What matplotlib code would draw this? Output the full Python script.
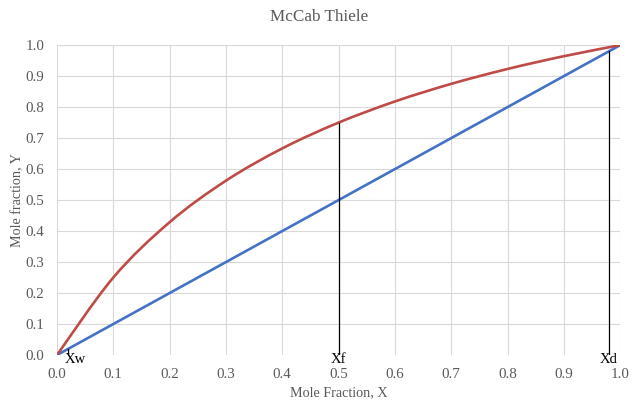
import matplotlib
matplotlib.use("Agg")
import matplotlib.pyplot as plt
from matplotlib.path import Path
from matplotlib.patches import PathPatch
import numpy as np

# Data
x_eq = [0.0, 0.1, 0.2, 0.3, 0.4, 0.5, 0.6, 0.7, 0.8, 0.9, 1.0]
y_eq = [0.0, 0.25, 0.4286, 0.5625, 0.6667, 0.75, 0.8182, 0.875, 0.9231, 0.9643, 1.0]
x_diag = [0.0, 1.0]
y_diag = [0.0, 1.0]
mark_names = ["Xw", "Xf", "Xd"]
mark_x = [0.02, 0.5, 0.98]
mark_top = [0.02, 0.75, 0.98]
ticks = [0.0, 0.1, 0.2, 0.3, 0.4, 0.5, 0.6, 0.7, 0.8, 0.9, 1.0]

RED = "#BE4B48"
BLUE = "#4472C4"
GREY = "#595959"

plt.rcParams['font.family'] = ['Liberation Serif', 'DejaVu Serif']

fig = plt.figure(figsize=(6.4, 4.03), dpi=100)
ax = fig.add_axes([0.089, 0.119, 0.880, 0.769])


def smooth_path(xs, ys):
    pts = list(zip(xs, ys))
    n = len(pts)
    verts = [pts[0]]
    codes = [Path.MOVETO]
    for i in range(n - 1):
        p0 = pts[i - 1] if i > 0 else pts[i]
        p1 = pts[i]
        p2 = pts[i + 1]
        p3 = pts[i + 2] if i + 2 < n else pts[i + 1]
        c1 = (p1[0] + (p2[0] - p0[0]) / 6, p1[1] + (p2[1] - p0[1]) / 6)
        c2 = (p2[0] - (p3[0] - p1[0]) / 6, p2[1] - (p3[1] - p1[1]) / 6)
        verts += [c1, c2, p2]
        codes += [Path.CURVE4] * 3
    return Path(verts, codes)


ax.plot(x_diag, y_diag, color=BLUE, lw=1.9, solid_capstyle='round', zorder=3)
ax.add_patch(PathPatch(smooth_path(x_eq, y_eq), facecolor='none', edgecolor=RED,
                       lw=1.9, capstyle='round', zorder=4))

for name, xv, top in zip(mark_names, mark_x, mark_top):
    ax.plot([xv, xv], [0, top], color='black', lw=0.9, zorder=5)
    tx = xv + 0.012 if name == "Xw" else xv
    ax.text(tx, 0.006, name, ha='center', va='top', fontsize=10.5,
            color='black', zorder=6, clip_on=False)

ax.set_xlim(0, 1)
ax.set_ylim(0, 1)
ax.set_xticks(ticks)
ax.set_yticks(ticks)
ax.set_xticklabels([f"{t:.1f}" for t in ticks])
ax.set_yticklabels([f"{t:.1f}" for t in ticks])
ax.tick_params(axis='x', length=0, colors=GREY, labelsize=10.8, pad=9)
ax.tick_params(axis='y', length=0, colors=GREY, labelsize=10.8, pad=9)
ax.grid(True, color="#D9D9D9", lw=0.8)
ax.set_axisbelow(True)
for s in ax.spines.values():
    s.set_visible(False)

ax.set_xlabel("Mole Fraction, X", fontsize=10.2, color=GREY)
ax.set_ylabel("Mole fraction, Y", fontsize=10.2, color=GREY)
ax.xaxis.set_label_coords(0.5, -0.123)
ax.yaxis.set_label_coords(-0.070, 0.5)
ax.xaxis.label.set_va('center')
ax.yaxis.label.set_va('center')
fig.text(0.498, 0.957, "McCab Thiele", ha='center', va='center', fontsize=12.3, color=GREY)

fig.savefig("out.png", dpi=100)
